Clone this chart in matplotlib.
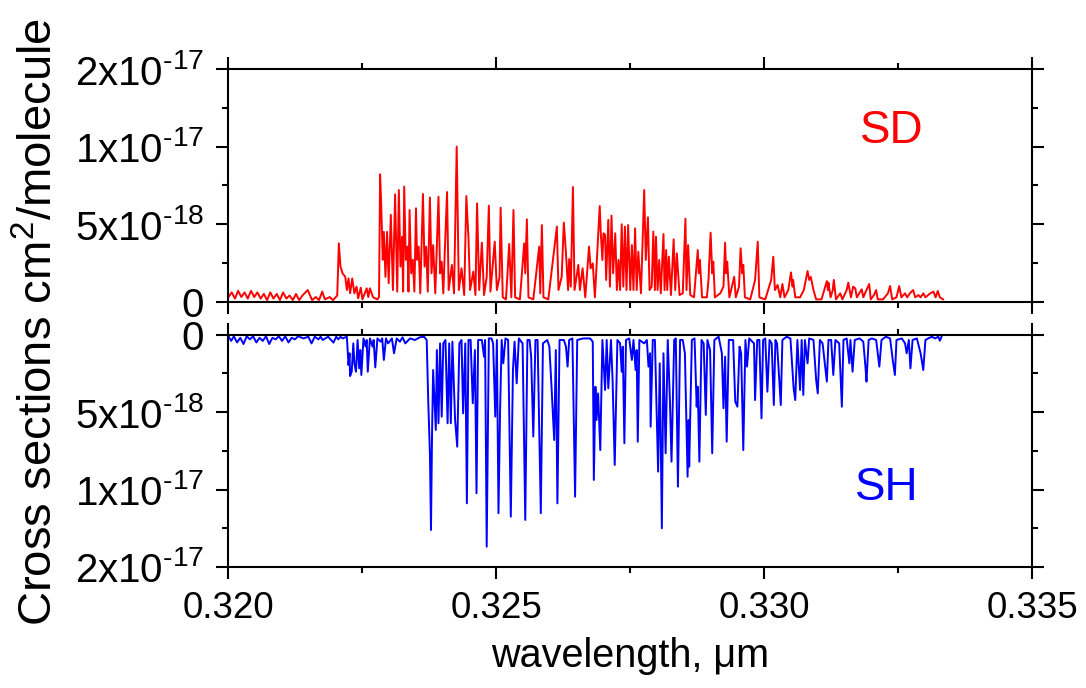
import numpy as np
import matplotlib
matplotlib.use("Agg")
import matplotlib.pyplot as plt

plt.rcParams['font.family'] = ['Liberation Sans', 'DejaVu Sans']
plt.rcParams['mathtext.fontset'] = 'custom'
plt.rcParams['mathtext.rm'] = 'Liberation Sans'
plt.rcParams['mathtext.it'] = 'Liberation Sans:italic'
plt.rcParams['mathtext.bf'] = 'Liberation Sans:bold'

# SD spectrum: wavelength (um) and cross section (1e-18 cm^2/molecule)
sd_wl = [
    0.32000, 0.32006, 0.32012, 0.32018, 0.32024, 0.32030, 0.32036, 0.32042, 0.32048, 0.32054,
    0.32060, 0.32066, 0.32072, 0.32078, 0.32084, 0.32090, 0.32096, 0.32102, 0.32108, 0.32114,
    0.32120, 0.32126, 0.32132, 0.32138, 0.32148, 0.32156, 0.32163, 0.32169, 0.32175, 0.32180,
    0.32189, 0.32195, 0.32203,
    0.32206, 0.32209, 0.32213, 0.32218, 0.32221, 0.32224, 0.32227, 0.32231, 0.32235, 0.32239,
    0.32242, 0.32247, 0.32250, 0.32258, 0.32261, 0.32264, 0.32270, 0.32278, 0.32281,
    0.32283, 0.32285, 0.32288, 0.32290, 0.32293, 0.32296, 0.32299, 0.32303, 0.32307, 0.32311,
    0.32315, 0.32318, 0.32321, 0.32324, 0.32326, 0.32328, 0.32331, 0.32334, 0.32336, 0.32338,
    0.32341, 0.32344, 0.32347, 0.32350, 0.32352, 0.32355, 0.32358, 0.32363, 0.32366, 0.32369,
    0.32372, 0.32376, 0.32379, 0.32382, 0.32386, 0.32392, 0.32395, 0.32398, 0.32401, 0.32404,
    0.32408, 0.32411,
    0.32417, 0.32421, 0.32426, 0.32430, 0.32435, 0.32440, 0.32444, 0.32448, 0.32451, 0.32457,
    0.32461, 0.32464, 0.32468, 0.32473, 0.32477, 0.32482, 0.32486, 0.32489, 0.32497, 0.32501,
    0.32506, 0.32508, 0.32512, 0.32518, 0.32524, 0.32528, 0.32532, 0.32535, 0.32544, 0.32552,
    0.32554, 0.32557, 0.32560, 0.32569, 0.32580, 0.32582, 0.32585, 0.32588, 0.32597, 0.32610,
    0.32613, 0.32616, 0.32622, 0.32626, 0.32630, 0.32634, 0.32636, 0.32639, 0.32643, 0.32646,
    0.32653, 0.32656, 0.32661, 0.32666, 0.32673, 0.32676, 0.32680, 0.32684,
    0.32693, 0.32695, 0.32698, 0.32700, 0.32703, 0.32705, 0.32709, 0.32712, 0.32715, 0.32718,
    0.32722, 0.32725, 0.32728, 0.32731, 0.32734, 0.32737, 0.32740, 0.32743, 0.32746, 0.32750,
    0.32753, 0.32756, 0.32759, 0.32762, 0.32765, 0.32770, 0.32776, 0.32779, 0.32783, 0.32786,
    0.32790, 0.32793, 0.32796, 0.32798, 0.32801, 0.32804, 0.32807, 0.32812, 0.32814, 0.32817,
    0.32819, 0.32822, 0.32826, 0.32831, 0.32834, 0.32837, 0.32842, 0.32848, 0.32853, 0.32855,
    0.32858, 0.32862, 0.32869, 0.32876, 0.32878, 0.32880, 0.32884,
    0.32893, 0.32896, 0.32900, 0.32903, 0.32905, 0.32908, 0.32918, 0.32924, 0.32927, 0.32929,
    0.32931, 0.32935, 0.32944, 0.32947, 0.32953, 0.32956, 0.32959, 0.32961, 0.32964, 0.32974,
    0.32983, 0.32988, 0.32991, 0.33002, 0.33013, 0.33017, 0.33020, 0.33025, 0.33030, 0.33034,
    0.33038, 0.33045, 0.33050, 0.33053, 0.33054, 0.33058, 0.33067, 0.33074, 0.33081, 0.33084,
    0.33087, 0.33092, 0.33097, 0.33107, 0.33112, 0.33117, 0.33119, 0.33120, 0.33124, 0.33128,
    0.33130, 0.33134, 0.33142, 0.33146, 0.33154, 0.33157, 0.33162, 0.33166, 0.33170, 0.33173,
    0.33182, 0.33185, 0.33191, 0.33196, 0.33199, 0.33205, 0.33209, 0.33212, 0.33222, 0.33231,
    0.33235, 0.33239, 0.33247, 0.33252, 0.33256, 0.33263, 0.33267, 0.33272, 0.33278, 0.33282,
    0.33288, 0.33292, 0.33297, 0.33301, 0.33310, 0.33316, 0.33320, 0.33324, 0.33328, 0.33334,
]
sd_val = [
    0.3, 0.6, 0.2, 0.7, 0.3, 0.6, 0.2, 0.7, 0.3, 0.6,
    0.2, 0.5, 0.1, 0.6, 0.2, 0.5, 0.1, 0.6, 0.2, 0.4,
    0.1, 0.5, 0.1, 0.4, 0.75, 0.1, 0.3, 0.1, 0.65, 0.15,
    0.3, 0.1, 0.4,
    3.76, 2.26, 1.83, 1.6, 0.75, 1.5, 0.54, 1.5, 0.54, 0.97,
    0.22, 0.9, 0.15, 0.86, 0.3, 0.86, 0.28, 0.15, 0.3,
    8.21, 6.34, 2.7, 4.5, 1.6, 4.5, 1.2, 5.6, 0.75, 6.92,
    0.65, 7.2, 2.26, 4.19, 0.65, 7.42, 2.7, 3.55, 0.65, 5.91,
    1.83, 2.7, 0.65, 6.02, 2.7, 3.55, 0.54, 6.94, 2.26, 3.55,
    0.65, 6.71, 1.83, 3.65, 0.54, 6.77, 1.83, 2.58, 0.54, 3.44,
    7.07, 0.75,
    2.37, 0.54, 10.0, 0.75, 2.15, 0.43, 6.81, 4.08, 0.75, 1.94,
    0.43, 6.34, 0.75, 3.8, 0.43, 1.6, 6.19, 0.65, 3.87, 0.75,
    1.6, 6.06, 0.28, 0.15, 3.72, 0.28, 5.91, 0.28, 0.15, 3.76,
    1.83, 5.31, 0.28, 0.15, 3.55, 0.54, 4.94, 0.28, 0.15, 3.98,
    4.84, 0.75, 1.6, 5.1, 3.12, 0.75, 2.75, 0.97, 7.39, 0.75,
    2.37, 0.75, 2.15, 0.28, 3.55, 2.15, 2.47, 0.28,
    6.17, 4.41, 2.69, 4.41, 4.3, 1.4, 5.27, 0.97, 5.55, 1.83,
    4.41, 0.75, 2.69, 0.75, 4.99, 0.97, 4.84, 0.75, 4.94, 0.75,
    3.65, 0.75, 4.73, 0.75, 3.22, 0.54, 7.2, 2.69, 5.44, 0.75,
    0.97, 4.52, 0.75, 4.19, 0.75, 2.69, 0.54, 4.36, 0.75, 3.33,
    0.75, 2.9, 0.43, 4.02, 0.75, 3.12, 0.43, 0.54, 5.35, 0.75,
    3.65, 0.43, 0.28, 3.33, 1.83, 2.69, 0.28,
    0.28, 1.4, 4.45, 1.83, 2.58, 0.28, 0.54, 0.97, 3.8, 1.83,
    2.58, 0.28, 1.6, 0.28, 0.97, 3.44, 1.83, 2.37, 0.28, 0.15,
    1.4, 3.87, 0.28, 0.15, 1.4, 2.9, 0.75, 1.08, 0.28, 1.14,
    0.28, 0.75, 1.89, 0.97, 1.4, 0.28, 0.28, 0.75, 1.98, 1.4,
    1.6, 0.75, 0.15, 0.15, 0.75, 1.33, 0.75, 1.23, 0.28, 0.75,
    1.4, 0.15, 0.54, 0.15, 0.75, 1.23, 0.28, 0.97, 0.86, 0.28,
    0.8, 0.28, 0.75, 1.14, 0.15, 0.43, 0.75, 0.15, 0.15, 0.54,
    1.01, 0.15, 0.28, 1.01, 0.28, 0.54, 0.28, 0.54, 0.75, 0.28,
    0.43, 0.28, 0.54, 0.28, 0.54, 0.65, 0.28, 0.69, 0.28, 0.15,
]

# SH spectrum (absorption depth, 1e-18 cm^2/molecule), drawn downward
sh_wl = [
    0.32000, 0.32005, 0.32010, 0.32016, 0.32022, 0.32028, 0.32034, 0.32040, 0.32046, 0.32052,
    0.32058, 0.32064, 0.32070, 0.32076, 0.32082, 0.32088, 0.32094, 0.32100, 0.32106, 0.32112,
    0.32118, 0.32124, 0.32130,
    0.32140, 0.32149, 0.32155, 0.32161, 0.32168, 0.32172, 0.32176, 0.32186, 0.32196, 0.32201,
    0.32205, 0.32209, 0.32213, 0.32221,
    0.32224, 0.32226, 0.32227, 0.32230, 0.32233, 0.32235, 0.32238, 0.32241, 0.32244, 0.32246,
    0.32248, 0.32252, 0.32256, 0.32258, 0.32260, 0.32264, 0.32269, 0.32271, 0.32274, 0.32278,
    0.32284, 0.32287, 0.32290, 0.32294, 0.32298, 0.32305, 0.32309, 0.32314, 0.32320, 0.32325,
    0.32330, 0.32339, 0.32348, 0.32357, 0.32365, 0.32370,
    0.32373, 0.32376, 0.32378, 0.32380, 0.32382, 0.32387, 0.32389, 0.32392, 0.32395, 0.32398,
    0.32401, 0.32405, 0.32409, 0.32412, 0.32415, 0.32418, 0.32423, 0.32427, 0.32431, 0.32435,
    0.32438, 0.32442, 0.32445, 0.32448, 0.32452, 0.32456, 0.32460, 0.32463, 0.32466, 0.32473,
    0.32477, 0.32479, 0.32482, 0.32486, 0.32491, 0.32494, 0.32498, 0.32501, 0.32504, 0.32507,
    0.32510, 0.32513, 0.32517, 0.32522, 0.32527, 0.32531, 0.32534, 0.32538, 0.32542, 0.32549,
    0.32554, 0.32558, 0.32562, 0.32565, 0.32569, 0.32573, 0.32577, 0.32583, 0.32587, 0.32595,
    0.32599, 0.32603, 0.32608, 0.32611, 0.32614, 0.32618, 0.32626, 0.32630, 0.32633, 0.32636,
    0.32642, 0.32647, 0.32651, 0.32662, 0.32675, 0.32680, 0.32682, 0.32685, 0.32687, 0.32690,
    0.32694,
    0.32698, 0.32703, 0.32706, 0.32709, 0.32714, 0.32717, 0.32721, 0.32726, 0.32731, 0.32734,
    0.32736, 0.32739, 0.32742, 0.32748, 0.32753, 0.32756, 0.32760, 0.32762, 0.32764, 0.32767,
    0.32776, 0.32781, 0.32784, 0.32787, 0.32788, 0.32792, 0.32796, 0.32802, 0.32805, 0.32809,
    0.32812, 0.32816, 0.32820, 0.32824, 0.32827, 0.32832, 0.32835, 0.32839, 0.32843, 0.32848,
    0.32852, 0.32857, 0.32859, 0.32860, 0.32865, 0.32870, 0.32874, 0.32876, 0.32879, 0.32883,
    0.32887, 0.32891, 0.32894, 0.32899, 0.32903, 0.32907, 0.32915, 0.32921, 0.32924, 0.32927,
    0.32930, 0.32934, 0.32942, 0.32946, 0.32950, 0.32954, 0.32957, 0.32961, 0.32965, 0.32968,
    0.32972, 0.32981, 0.32983, 0.32987, 0.32991, 0.32995, 0.32998, 0.33002, 0.33006, 0.33010,
    0.33014, 0.33018, 0.33021, 0.33024, 0.33031, 0.33034, 0.33042, 0.33049, 0.33055, 0.33058,
    0.33062, 0.33067, 0.33070, 0.33073, 0.33076, 0.33081, 0.33084, 0.33092, 0.33097, 0.33100,
    0.33104, 0.33109, 0.33117, 0.33120, 0.33125, 0.33129, 0.33133, 0.33140, 0.33145, 0.33148,
    0.33154, 0.33159, 0.33161, 0.33165, 0.33169, 0.33178, 0.33185, 0.33189, 0.33191, 0.33195,
    0.33201, 0.33209, 0.33215, 0.33219, 0.33227, 0.33235, 0.33240, 0.33244, 0.33247, 0.33257,
    0.33263, 0.33266, 0.33270, 0.33273, 0.33277, 0.33285, 0.33292, 0.33297, 0.33301, 0.33306,
    0.33313, 0.33319, 0.33325, 0.33328, 0.33331,
]
sh_val = [
    0.1, 0.4, 0.1, 0.5, 0.2, 0.6, 0.1, 0.3, 0.1, 0.5,
    0.2, 0.4, 0.1, 0.6, 0.2, 0.3, 0.1, 0.4, 0.1, 0.5,
    0.2, 0.3, 0.1,
    0.24, 0.13, 0.56, 0.13, 0.30, 0.13, 0.34, 0.13, 0.51, 0.13,
    0.30, 0.13, 0.24, 0.13,
    1.96, 1.20, 2.67, 2.39, 0.56, 1.85, 2.39, 0.34, 2.17, 0.99,
    2.60, 0.24, 0.77, 0.34, 2.39, 0.24, 0.77, 0.34, 2.11, 0.24,
    0.45, 0.24, 1.63, 0.24, 0.56, 0.24, 1.20, 0.24, 0.45, 0.17,
    0.56, 0.24, 0.34, 0.17, 0.13, 0.34,
    4.43, 7.66, 12.61, 6.37, 2.28, 6.15, 0.99, 5.72, 0.56, 5.29,
    0.56, 0.34, 5.72, 0.56, 5.72, 0.45, 5.51, 7.23, 0.56, 0.34,
    5.08, 0.56, 10.89, 0.34, 0.34, 4.43, 0.99, 10.24, 0.34, 0.34,
    1.42, 0.34, 13.69, 0.24, 0.24, 0.56, 5.29, 0.34, 11.53, 4.86,
    0.34, 1.85, 0.24, 0.34, 11.75, 2.28, 0.45, 3.14, 0.24, 0.56,
    11.96, 0.34, 0.34, 1.42, 6.58, 0.34, 0.34, 11.53, 0.56, 0.34,
    0.77, 3.36, 6.80, 0.99, 10.89, 0.34, 0.34, 0.77, 2.06, 0.34,
    0.24, 10.46, 0.34, 0.24, 0.24, 0.45, 9.38, 3.36, 5.51, 3.79,
    7.45,
    0.34, 3.57, 0.34, 3.46, 0.34, 2.92, 8.41, 0.34, 0.56, 2.39,
    0.77, 7.01, 0.34, 0.24, 1.63, 0.34, 2.28, 0.99, 6.91, 0.34,
    0.56, 0.34, 2.06, 1.20, 5.94, 0.34, 0.34, 8.84, 1.85, 12.50,
    1.20, 7.66, 0.34, 4.22, 8.20, 0.34, 0.24, 9.81, 0.34, 0.34,
    1.20, 9.17, 5.51, 8.52, 0.34, 0.24, 4.65, 3.36, 8.20, 0.34,
    0.56, 5.18, 0.34, 0.99, 7.66, 0.34, 0.13, 1.20, 4.75, 1.42,
    6.91, 0.34, 0.34, 4.32, 4.65, 0.77, 1.20, 7.45, 0.34, 2.06,
    0.24, 0.56, 4.22, 0.34, 0.34, 5.40, 0.34, 0.24, 3.68, 0.34,
    0.56, 4.54, 0.34, 0.56, 4.54, 0.34, 0.13, 0.24, 3.46, 4.22,
    0.34, 3.57, 0.34, 3.89, 0.34, 1.85, 0.24, 0.34, 2.92, 3.79,
    0.34, 0.56, 3.03, 0.34, 0.34, 2.60, 0.34, 0.56, 4.65, 0.34,
    0.24, 1.85, 0.34, 2.39, 0.34, 0.24, 0.45, 2.06, 3.03, 0.34,
    0.24, 0.34, 2.06, 0.34, 0.13, 0.24, 1.63, 2.60, 0.34, 0.24,
    0.56, 1.20, 0.34, 2.17, 0.34, 0.24, 1.20, 2.28, 0.34, 0.24,
    0.13, 0.24, 0.13, 0.39, 0.13,
]

x_ticks = [0.320, 0.325, 0.330, 0.335]
x_minor = [0.3225, 0.3275, 0.3325]
x_tick_labels = ['0.320', '0.325', '0.330', '0.335']
y_ticks = [0, 5e-18, 1e-17, 1.5e-17]
y_minor = [2.5e-18, 7.5e-18, 1.25e-17]
y_tick_labels = ['0', r'5x10$^{\text{-18}}$', r'1x10$^{\text{-17}}$', r'2x10$^{\text{-17}}$']

fig = plt.figure(figsize=(10.86, 6.88), dpi=100)
ax_top = fig.add_axes([0.2104, 0.5615, 0.7399, 0.3382])
ax_bot = fig.add_axes([0.2104, 0.1759, 0.7399, 0.3376])

ax_top.plot(sd_wl, np.array(sd_val) * 1e-18, color='#ff0000', lw=1.4)
ax_bot.plot(sh_wl, np.array(sh_val) * 1e-18, color='#0000ff', lw=1.4)

for ax in (ax_top, ax_bot):
    ax.set_xlim(0.320, 0.335)
    ax.set_xticks(x_ticks)
    ax.set_xticks(x_minor, minor=True)
    ax.set_yticks(y_ticks)
    ax.set_yticks(y_minor, minor=True)
    ax.set_yticklabels(y_tick_labels)
    for s in ax.spines.values():
        s.set_linewidth(1.5)
    ax.tick_params(which='both', direction='out', top=True, right=True,
                   bottom=True, left=True, width=1.5)
    ax.tick_params(which='major', length=8.5, pad=9)
    ax.tick_params(which='minor', length=4.5)
    ax.tick_params(axis='y', labelsize=29)
    ax.tick_params(axis='x', labelsize=26.5)

ax_top.set_ylim(0, 1.5e-17)
ax_bot.set_ylim(1.5e-17, 0)
ax_top.tick_params(labelbottom=False)
ax_bot.set_xticklabels(x_tick_labels)
ax_bot.set_xlabel('wavelength, \u03bcm', fontsize=28.5, labelpad=8)

ax_top.text(0.826, 0.734, 'SD', color='#ff0000', fontsize=33,
            transform=ax_top.transAxes, ha='center', va='center')
ax_bot.text(0.8195, 0.34, 'SH', color='#0000ff', fontsize=33,
            transform=ax_bot.transAxes, ha='center', va='center')

fig.text(0.037, 0.532, r'Cross sections cm$^{2}$/molecule', rotation=90,
         fontsize=34, ha='center', va='center')

fig.savefig('out.png', dpi=100)
